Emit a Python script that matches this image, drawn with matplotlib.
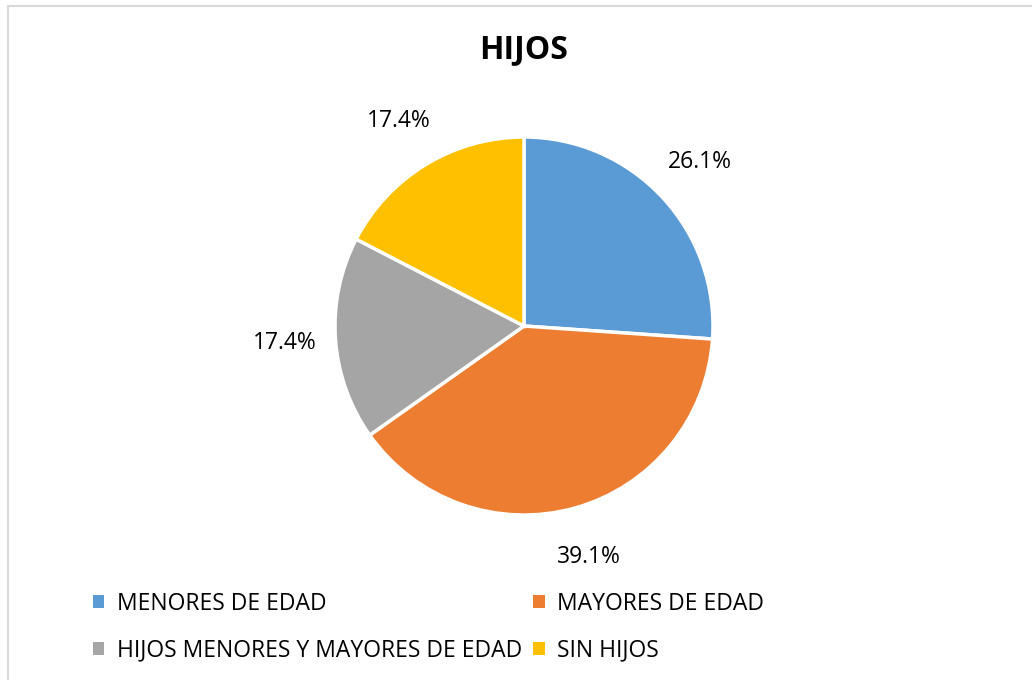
import matplotlib.pyplot as plt
from matplotlib.patches import Rectangle, Patch

categories = ["MENORES DE EDAD", "MAYORES DE EDAD",
              "HIJOS MENORES Y MAYORES DE EDAD", "SIN HIJOS"]
values = [26.1, 39.1, 17.4, 17.4]
colors = ["#5B9BD5", "#ED7D31", "#A5A5A5", "#FFC000"]

plt.rcParams["font.family"] = ["Open Sans", "DejaVu Sans"]

fig = plt.figure(figsize=(10.32, 6.8), dpi=100)

# marco gris del grafico
fig.patches.append(Rectangle((8 / 1032, -0.1), 1.2, (680 - 6) / 680 + 0.1,
                             transform=fig.transFigure, fill=False,
                             edgecolor="#D9D9D9", linewidth=1.5))

ax = fig.add_axes([274 / 1032, 104 / 680, 500 / 1032, 500 / 680])
wedges, texts, autotexts = ax.pie(
    values, colors=colors, startangle=90, counterclock=False,
    autopct="%.1f%%", pctdistance=1.27,
    wedgeprops=dict(edgecolor="white", linewidth=2.5),
    textprops=dict(fontsize=16.5, color="#000000"))
ax.set_xlim(-1.3227, 1.3227)
ax.set_ylim(-1.3227, 1.3227)
ax.set_aspect("equal")

fig.text(524 / 1032, 1 - 50 / 680, "HIJOS", ha="center", va="center",
         fontsize=23, fontweight="bold")

# leyenda en dos columnas
handles = [Patch(facecolor=c, edgecolor="none") for c in colors]
order = [0, 2, 1, 3]
fig.legend([handles[i] for i in order], [categories[i] for i in order],
           ncol=2, loc="upper left", bbox_to_anchor=(72 / 1032, 1 - 571 / 680),
           frameon=False, fontsize=16.5, handlelength=0.5, handleheight=0.5,
           handletextpad=0.55, columnspacing=0.5, labelspacing=1.0)

plt.savefig("out.png", dpi=100)
